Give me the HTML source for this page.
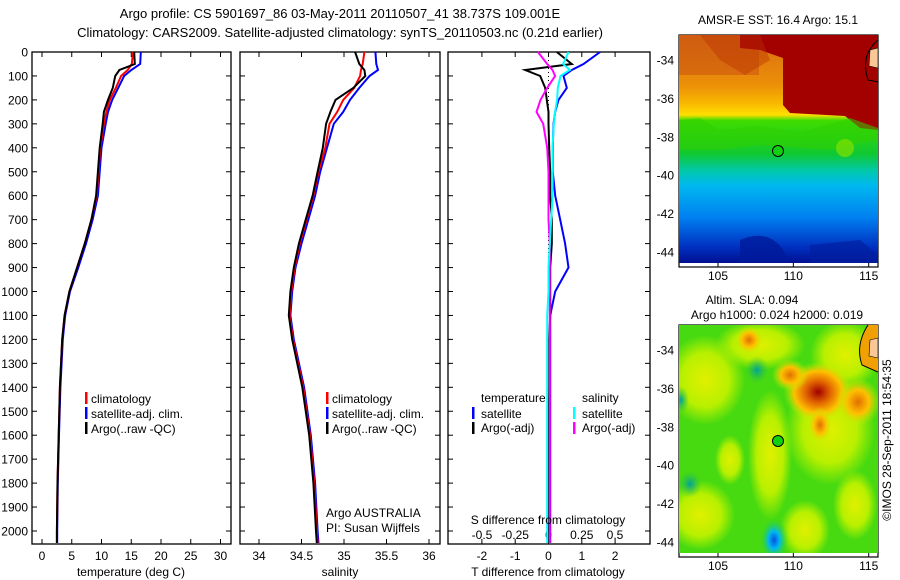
<!DOCTYPE html>
<html><head><meta charset="utf-8"><style>
body{margin:0;background:#fff}
svg{display:block;font-family:"Liberation Sans",sans-serif;font-size:12px}
</style></head><body>
<svg id="c" width="900" height="580" viewBox="0 0 900 580">
<defs>
<linearGradient id="sst" x1="0" y1="0" x2="0" y2="1">
<stop offset="0" stop-color="#d86a12"/><stop offset="0.22" stop-color="#ec9008"/><stop offset="0.3" stop-color="#f8b800"/>
<stop offset="0.35" stop-color="#ffe000"/><stop offset="0.375" stop-color="#40dc00"/><stop offset="0.52" stop-color="#10c830"/>
<stop offset="0.6" stop-color="#00c8b0"/><stop offset="0.66" stop-color="#00b8f0"/><stop offset="0.8" stop-color="#0080f0"/>
<stop offset="0.93" stop-color="#0030c0"/><stop offset="1" stop-color="#001090"/></linearGradient>
<radialGradient id="hot"><stop offset="0" stop-color="#a00000"/><stop offset="0.35" stop-color="#e06000"/><stop offset="0.7" stop-color="#ffc000"/><stop offset="1" stop-color="#c0f000" stop-opacity="0"/></radialGradient>
<radialGradient id="warm"><stop offset="0" stop-color="#e07000"/><stop offset="0.5" stop-color="#ffc000"/><stop offset="1" stop-color="#c0f000" stop-opacity="0"/></radialGradient>
<radialGradient id="yel"><stop offset="0" stop-color="#e0f000"/><stop offset="0.6" stop-color="#b8f000"/><stop offset="1" stop-color="#b0f000" stop-opacity="0"/></radialGradient>
<radialGradient id="cold"><stop offset="0" stop-color="#0050e0"/><stop offset="0.4" stop-color="#00b8f0"/><stop offset="1" stop-color="#30d820" stop-opacity="0"/></radialGradient>
<radialGradient id="teal"><stop offset="0" stop-color="#00a0a0"/><stop offset="1" stop-color="#30c830" stop-opacity="0"/></radialGradient>
<clipPath id="m1"><rect x="679" y="35" width="199" height="228"/></clipPath>
<clipPath id="m2"><rect x="679" y="325" width="199" height="228"/></clipPath>
</defs>
<g text-anchor="middle" font-size="13">
<text x="340" y="18">Argo profile: CS 5901697_86 03-May-2011 20110507_41 38.737S 109.001E</text>
<text x="340" y="37">Climatology: CARS2009. Satellite-adjusted climatology: synTS_20110503.nc (0.21d earlier)</text>
</g>
<g id="frames"></g>
<g id="series"></g>
<g id="legends">
<rect x="85" y="392" width="2.5" height="12" fill="#f00"/><text x="91" y="403">climatology</text>
<rect x="85" y="407" width="2.5" height="12" fill="#00f"/><text x="91" y="418">satellite-adj. clim.</text>
<rect x="85" y="422" width="2.5" height="12" fill="#000"/><text x="91" y="433">Argo(..raw -QC)</text>
<rect x="326" y="392" width="2.5" height="12" fill="#f00"/><text x="332" y="403">climatology</text>
<rect x="326" y="407" width="2.5" height="12" fill="#00f"/><text x="332" y="418">satellite-adj. clim.</text>
<rect x="326" y="422" width="2.5" height="12" fill="#000"/><text x="332" y="433">Argo(..raw -QC)</text>
<text x="481" y="402">temperature</text><text x="582" y="402">salinity</text>
<rect x="472" y="407" width="2.5" height="12" fill="#00f"/><text x="481" y="418">satellite</text>
<rect x="472" y="422" width="2.5" height="12" fill="#000"/><text x="481" y="432">Argo(-adj)</text>
<rect x="573" y="407" width="2.5" height="12" fill="#0ff"/><text x="582" y="418">satellite</text>
<rect x="573" y="422" width="2.5" height="12" fill="#f0f"/><text x="582" y="432">Argo(-adj)</text>
<text x="326" y="517">Argo AUSTRALIA</text><text x="326" y="532">PI: Susan Wijffels</text>
<text x="548" y="524" text-anchor="middle">S difference from climatology</text>
</g>
<g clip-path="url(#m1)">
<rect x="679" y="35" width="199" height="228" fill="url(#sst)"/>
<rect x="679" y="35" width="80" height="40" fill="#c85010" opacity="0.5"/>
<path d="M740,35 L878,35 L878,130 L860,128 L845,116 L790,113 L783,105 L783,58 L760,50 L740,48 Z" fill="#a30000"/>
<path d="M700,35 L760,35 L770,60 L745,75 L720,60 Z" fill="#b83000" opacity="0.4"/>
<path d="M679,120 L700,118 L720,130 L760,126 L800,132 L830,124 L850,118 L878,128 L878,140 L850,145 L830,150 L800,148 L760,145 L720,150 L679,150 Z" fill="#30d000" opacity="0.55"/>
<circle cx="845" cy="148" r="9" fill="#80e000" opacity="0.7"/>
<path d="M740,240 Q775,225 790,263 L740,263 Z" fill="#001a9a" opacity="0.8"/>
<path d="M810,245 L860,240 L878,255 L878,263 L810,263 Z" fill="#0020a0" opacity="0.7"/>
<path d="M878,40 Q860,55 868,80 L878,82" fill="none" stroke="#000" stroke-width="1"/>
<path d="M870,50 L878,48 L878,68 L869,66 Z" fill="#fac896" stroke="#000" stroke-width="0.6"/>
<circle cx="778" cy="151" r="5.5" fill="#10d010" stroke="#000" stroke-width="1"/>
</g>
<g clip-path="url(#m2)">
<rect x="679" y="325" width="199" height="228" fill="#48da10"/>
<ellipse cx="705" cy="380" rx="40" ry="45" fill="url(#yel)"/>
<ellipse cx="760" cy="345" rx="45" ry="25" fill="url(#yel)"/>
<ellipse cx="845" cy="355" rx="35" ry="35" fill="url(#yel)"/>
<ellipse cx="830" cy="430" rx="45" ry="55" fill="url(#yel)"/>
<ellipse cx="700" cy="515" rx="35" ry="35" fill="url(#yel)"/>
<ellipse cx="770" cy="455" rx="22" ry="65" fill="url(#yel)"/>
<ellipse cx="805" cy="530" rx="25" ry="30" fill="url(#yel)"/>
<ellipse cx="855" cy="505" rx="22" ry="35" fill="url(#yel)"/>
<ellipse cx="730" cy="460" rx="15" ry="25" fill="url(#yel)"/>
<ellipse cx="818" cy="392" rx="34" ry="30" fill="url(#hot)"/>
<ellipse cx="858" cy="402" rx="22" ry="24" fill="url(#warm)"/>
<ellipse cx="749" cy="340" rx="14" ry="14" fill="url(#warm)"/>
<ellipse cx="790" cy="375" rx="18" ry="16" fill="url(#warm)"/>
<ellipse cx="820" cy="425" rx="12" ry="18" fill="url(#warm)"/>
<ellipse cx="774" cy="540" rx="14" ry="22" fill="url(#cold)"/>
<ellipse cx="757" cy="370" rx="12" ry="14" fill="url(#teal)"/>
<ellipse cx="690" cy="484" rx="12" ry="14" fill="url(#teal)"/>
<ellipse cx="681" cy="400" rx="8" ry="14" fill="url(#teal)"/>
<path d="M878,325 L868,325 Q855,345 862,365 L878,372 Z" fill="#f0a000"/>
<path d="M868,325 Q855,345 862,365 L878,372" fill="none" stroke="#000" stroke-width="1"/>
<path d="M870,340 L878,338 L878,358 L869,356 Z" fill="#fac896" stroke="#000" stroke-width="0.6"/>
<circle cx="778" cy="441" r="5.5" fill="#10d010" stroke="#000" stroke-width="1"/>
</g>
<g text-anchor="middle">
<text x="778" y="24">AMSR-E SST: 16.4  Argo: 15.1</text>
<text x="752" y="304">Altim. SLA: 0.094</text>
<text x="777" y="319">Argo h1000: 0.024  h2000: 0.019</text>
</g>
<text transform="translate(891,440) rotate(-90)" text-anchor="middle">©IMOS 28-Sep-2011 18:54:35</text>
</svg>
<script>
const depths=[0,50,75,100,150,200,250,300,400,500,600,700,800,900,1000,1100,1200,1400,1600,1800,2000,2050];
const tempClim=[15.3,15.1,14.4,13.3,12.4,11.4,10.8,10.4,9.8,9.5,9.2,8.3,7.2,5.9,4.6,3.8,3.4,3.0,2.8,2.6,2.5,2.5];
const tempSat=[16.6,16.5,15.0,13.8,12.8,11.8,11.1,10.7,10.0,9.7,9.4,8.5,7.4,6.1,4.7,3.9,3.5,3.1,2.85,2.65,2.55,2.55];
const tempArgo=[15.5,15.6,13.0,12.3,11.9,11.1,10.4,10.2,9.7,9.4,9.1,8.3,7.2,5.9,4.6,3.8,3.4,3.0,2.8,2.6,2.5,2.5];
const salClim=[35.24,35.22,35.2,35.19,35.12,34.99,34.92,34.83,34.78,34.7,34.64,34.56,34.48,34.42,34.38,34.36,34.4,34.52,34.6,34.65,34.68,34.69];
const salSat=[35.37,35.38,35.4,35.3,35.18,35.07,34.99,34.88,34.8,34.72,34.66,34.58,34.5,34.43,34.39,34.37,34.41,34.53,34.61,34.66,34.69,34.7];
const salArgo=[35.13,35.18,35.24,35.25,35.11,34.9,34.84,34.79,34.75,34.69,34.63,34.55,34.47,34.41,34.37,34.35,34.39,34.51,34.59,34.64,34.67,34.68];
const tDiffSat=[1.55,1.05,0.7,0.45,0.55,0.3,0.2,0.15,0.13,0.13,0.2,0.35,0.5,0.6,0.2,0.05,0.05,0.05,0.05,0.05,0.05,0.05];
const tDiffArgo=[0.25,0.7,-0.7,-0.25,-0.1,-0.05,0,0,0.02,0.05,0.05,0.1,0.1,0.05,0.05,0.05,0.02,0.02,0.0,0.0,0.0,0.0];
const sDiffSat=[0.15,0.11,0.16,0.09,0.07,0.065,0.05,0.04,0.03,0.03,0.03,0.02,0.01,0.0,0.0,-0.01,-0.01,-0.01,-0.01,-0.01,-0.01,-0.01];
const sDiffArgo=[-0.08,-0.01,0.03,0.05,-0.01,-0.06,-0.09,-0.04,-0.01,0.0,0.0,0.0,0.01,0.01,0.01,0.01,0.01,0.01,0.01,0.01,0.01,0.01];
const depthTicks=[0,100,200,300,400,500,600,700,800,900,1000,1100,1200,1300,1400,1500,1600,1700,1800,1900,2000];
const tempTicks=[0,5,10,15,20,25,30];
const salTicks=[34,34.5,35,35.5,36];
const tDiffTicks=[-2,-1,0,1,2];
const sDiffTicks=[-0.5,-0.25,0,0.25,0.5];
const sstLonTicks=[105,110,115];
const latTicks=[-34,-36,-38,-40,-42,-44];

const NS='http://www.w3.org/2000/svg';
const top0=52, bot=544;
const yD=d=>top0+d*0.2395;
const xT=v=>42+5.95*v;
const xS=v=>259+85*(v-34);
const xDT=v=>548.5+33.3*v;
const xDS=v=>548.5+133*v;
const lonX=v=>718+15.07*(v-105);
const latY=(v,o)=>o+25+19.2*(-34-v);
function el(t,a,p){const e=document.createElementNS(NS,t);for(const k in a)e.setAttribute(k,a[k]);p.appendChild(e);return e;}
const fr=document.getElementById('frames'), se=document.getElementById('series');
const panels=[[32,231],[240,440],[448,650]];
panels.forEach(([l,r],i)=>{
  const g=el('g',{},fr);
  
  
  el('rect',{x:l,y:top0,width:r-l,height:bot-top0,fill:'none',stroke:'#000','stroke-width':1.3},g);
  depthTicks.forEach(d=>{const y=yD(d);el('line',{x1:l,x2:l+5,y1:y,y2:y,stroke:'#000'},g);el('line',{x1:r-5,x2:r,y1:y,y2:y,stroke:'#000'},g);});
});
depthTicks.forEach(d=>{const t=el('text',{x:28,y:yD(d)+4.5,'text-anchor':'end'},fr);t.textContent=d;
 
 });
function xticks(arr,fx,y,fmt,tickTop){arr.forEach(v=>{const x=fx(v);
 el('line',{x1:x,x2:x,y1:bot-5,y2:bot,stroke:'#000'},fr);
 if(tickTop)el('line',{x1:x,x2:x,y1:top0,y2:top0+5,stroke:'#000'},fr);
 const t=el('text',{x:x,y:y,'text-anchor':'middle'},fr);t.textContent=fmt(v);
 
 });}
xticks(tempTicks,xT,560,v=>v,true);
xticks(salTicks,xS,560,v=>v,true);
xticks(tDiffTicks,xDT,560,v=>v,true);
sDiffTicks.forEach(v=>{const t=el('text',{x:xDS(v),y:539,'text-anchor':'middle'},fr);t.textContent=v;
 
 });
[['temperature (deg C)',131],['salinity',340],['T difference from climatology',548]].forEach(([s,x])=>{
 const t=el('text',{x:x,y:576,'text-anchor':'middle'},fr);t.textContent=s;
 
 });
el('line',{x1:xDT(0),x2:xDT(0),y1:top0,y2:yD(1000),stroke:'#000','stroke-dasharray':'1,3'},fr);
function line(vals,fx,col,name,w){
 const p=el('polyline',{points:vals.map((v,i)=>fx(v).toFixed(1)+','+yD(depths[i]).toFixed(1)).join(' '),fill:'none',stroke:col,'stroke-width':w||2},se);
 
 }
line(tempSat,xT,'#00f','temp-satellite-line');
line(tempClim,xT,'#f00','temp-climatology-line');
line(tempArgo,xT,'#000','temp-argo-line');
line(salSat,xS,'#00f','sal-satellite-line');
line(salClim,xS,'#f00','sal-climatology-line');
line(salArgo,xS,'#000','sal-argo-line');
line(tDiffSat,xDT,'#00f','tdiff-satellite-line');
line(tDiffArgo,xDT,'#000','tdiff-argo-line');
line(sDiffArgo,xDS,'#f0f','sdiff-argo-line');
line(sDiffSat,xDS,'#0ff','sdiff-satellite-line');
[35,325].forEach((o,i)=>{
 const g=el('g',{},fr);
 
 
 el('rect',{x:679,y:o,width:199,height:232,fill:'none',stroke:'#000','stroke-width':1.2},g);
 sstLonTicks.forEach(v=>{const x=lonX(v);el('line',{x1:x,x2:x,y1:o,y2:o+4,stroke:'#000'},g);el('line',{x1:x,x2:x,y1:o+228,y2:o+232,stroke:'#000'},g);
  const t=el('text',{x:x,y:o+245,'text-anchor':'middle'},g);t.textContent=v;});
 latTicks.forEach(v=>{const y=latY(v,o);el('line',{x1:679,x2:683,y1:y,y2:y,stroke:'#000'},g);el('line',{x1:874,x2:878,y1:y,y2:y,stroke:'#000'},g);
  const t=el('text',{x:674,y:y+4.5,'text-anchor':'end'},g);t.textContent=v;});
});
</script>
</body></html>
